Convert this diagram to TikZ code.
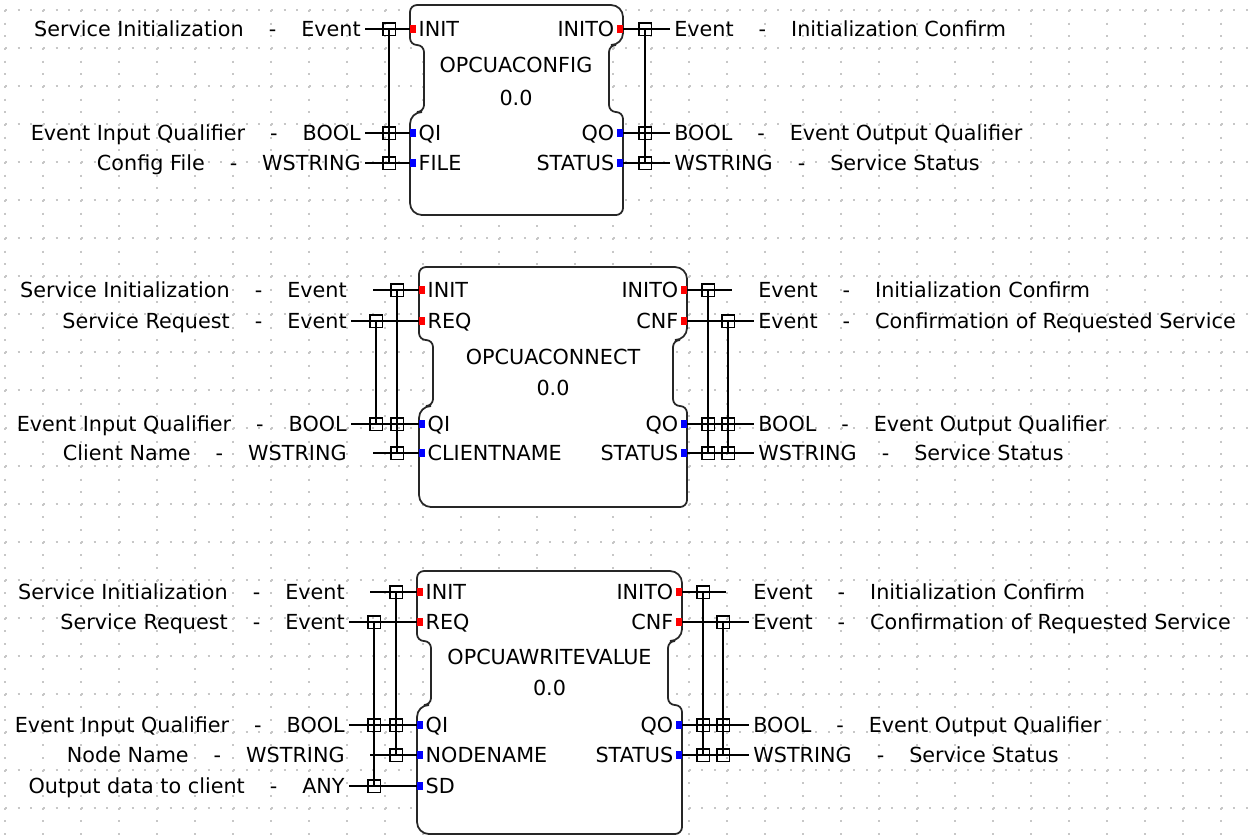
\documentclass[tikz,border=0pt]{standalone}
\usepackage{fontspec}
\setmainfont{DejaVu Sans}
\usetikzlibrary{positioning}
\newcommand{\fbfont}{\fontsize{11.8pt}{14pt}\selectfont}
\newcommand{\lsep}{\hspace{0.5cm}-\hspace{0.5cm}}

\begin{document}
\begin{tikzpicture}[
        x=0.02cm, y=-0.02cm,
        % Grid
        gridDots/.style = {draw=black!22, line width=0.04cm, dash pattern=on 0.04cm off 0.2133cm},
        % Block Styles
        fbBody/.style = {draw=black!85, fill=white, line width=1pt},
        fbTitle/.style = {font=\fbfont, inner sep=0},
        portTxt/.style = {font=\fbfont, inner xsep=0.04cm, inner ysep=0, text height=0.3cm, text depth=0cm},
        evPort/.style = {rectangle, fill=red, minimum width=0.12cm, minimum height=0.16cm, inner sep=0},
        dataPort/.style = {evPort, fill=blue},
        % Pin Styles
        pinTxt/.style = {font=\fbfont, inner xsep=0.08cm, inner ysep=0, text height=0.3cm, text depth=0cm},
        withBox/.style = {rectangle, draw=black, line width=0.85pt, minimum size=0.25cm, inner sep=0},
        wire/.style = {draw=black, line width=0.85pt}
    ]
    \useasboundingbox (0,0) rectangle (1248,836);
    \fill[white] (0,0) rectangle (1248,836);

    % ==========================================
    % DOTTED GRID
    % ==========================================
    \foreach \gx in {5,43,...,1245}
        \draw[gridDots] (\gx,-2.667) -- (\gx,850);
    \foreach \gy in {10,48,...,846}
        \draw[gridDots] (-7.667,\gy) -- (1260,\gy);

    % ==========================================
    % BLOCK 1: OPCUACONFIG
    % ==========================================
    \draw[fbBody] (516,5) [rounded corners=0.24cm] -- (623,5) -- (623,45) [rounded corners=0.14cm] -- (609,45) -- (609,112) -- (623,112) -- (623,215) [rounded corners=0.24cm] -- (410,215) -- (410,112) [rounded corners=0.14cm] -- (424,112) -- (424,45) -- (410,45) -- (410,5) [rounded corners=0.24cm] -- cycle;
    \node[fbTitle] (cfgName) at (516,65) {OPCUACONFIG};
    \node[fbTitle] (cfgVer) at (516,98) {0.0};

    \node[evPort] (cfgINIT) at (413,29) {};
    \node[dataPort] (cfgQI) at (413,133) {};
    \node[dataPort] (cfgFILE) at (413,163) {};
    \node[evPort] (cfgINITO) at (620,29) {};
    \node[dataPort] (cfgQO) at (620,133) {};
    \node[dataPort] (cfgSTATUS) at (620,163) {};
    \node[portTxt, right=0pt of cfgINIT] (cfgINITt) {INIT};
    \node[portTxt, right=0pt of cfgQI] (cfgQIt) {QI};
    \node[portTxt, right=0pt of cfgFILE] (cfgFILEt) {FILE};
    \node[portTxt, left=0pt of cfgINITO] (cfgINITOt) {INITO};
    \node[portTxt, left=0pt of cfgQO] (cfgQOt) {QO};
    \node[portTxt, left=0pt of cfgSTATUS] (cfgSTATUSt) {STATUS};

    \node[pinTxt, anchor=east] (cfgIn1) at (365,29) {Service Initialization\lsep Event};
    \node[pinTxt, anchor=east] (cfgIn2) at (365,133) {Event Input Qualifier\lsep BOOL};
    \node[pinTxt, anchor=east] (cfgIn3) at (365,163) {Config File\lsep WSTRING};
    \node[pinTxt, anchor=west] (cfgOut1) at (670,29) {Event\lsep Initialization Confirm};
    \node[pinTxt, anchor=west] (cfgOut2) at (670,133) {BOOL\lsep Event Output Qualifier};
    \node[pinTxt, anchor=west] (cfgOut3) at (670,163) {WSTRING\lsep Service Status};

    \node[withBox] (cfgW1) at (389,29) {};
    \node[withBox] (cfgW2) at (389,133) {};
    \node[withBox] (cfgW3) at (389,163) {};
    \node[withBox] (cfgW4) at (645,29) {};
    \node[withBox] (cfgW5) at (645,133) {};
    \node[withBox] (cfgW6) at (645,163) {};

    \draw[wire] (cfgIn1.east) -- (cfgINIT.west);
    \draw[wire] (cfgIn2.east) -- (cfgQI.west);
    \draw[wire] (cfgIn3.east) -- (cfgFILE.west);
    \draw[wire] (cfgINITO.east) -- (cfgOut1.west);
    \draw[wire] (cfgQO.east) -- (cfgOut2.west);
    \draw[wire] (cfgSTATUS.east) -- (cfgOut3.west);
    \draw[wire] (cfgW1.center) -- (cfgW3.center);
    \draw[wire] (cfgW4.center) -- (cfgW6.center);

    % ==========================================
    % BLOCK 2: OPCUACONNECT
    % ==========================================
    \draw[fbBody] (553,267) [rounded corners=0.24cm] -- (687,267) -- (687,340) [rounded corners=0.14cm] -- (673,340) -- (673,406) -- (687,406) -- (687,507) [rounded corners=0.24cm] -- (419,507) -- (419,406) [rounded corners=0.14cm] -- (433,406) -- (433,340) -- (419,340) -- (419,267) [rounded corners=0.24cm] -- cycle;
    \node[fbTitle] (conName) at (553,357) {OPCUACONNECT};
    \node[fbTitle] (conVer) at (553,388) {0.0};

    \node[evPort] (conINIT) at (422,290) {};
    \node[evPort] (conREQ) at (422,321) {};
    \node[dataPort] (conQI) at (422,424) {};
    \node[dataPort] (conCLIENT) at (422,453) {};
    \node[evPort] (conINITO) at (684,290) {};
    \node[evPort] (conCNF) at (684,321) {};
    \node[dataPort] (conQO) at (684,424) {};
    \node[dataPort] (conSTATUS) at (684,453) {};
    \node[portTxt, right=0pt of conINIT] (conINITt) {INIT};
    \node[portTxt, right=0pt of conREQ] (conREQt) {REQ};
    \node[portTxt, right=0pt of conQI] (conQIt) {QI};
    \node[portTxt, right=0pt of conCLIENT] (conCLIENTt) {CLIENTNAME};
    \node[portTxt, left=0pt of conINITO] (conINITOt) {INITO};
    \node[portTxt, left=0pt of conCNF] (conCNFt) {CNF};
    \node[portTxt, left=0pt of conQO] (conQOt) {QO};
    \node[portTxt, left=0pt of conSTATUS] (conSTATUSt) {STATUS};

    \node[pinTxt, anchor=east] (conIn1) at (351,290) {Service Initialization\lsep Event};
    \node[pinTxt, anchor=east] (conIn2) at (351,321) {Service Request\lsep Event};
    \node[pinTxt, anchor=east] (conIn3) at (351,424) {Event Input Qualifier\lsep BOOL};
    \node[pinTxt, anchor=east] (conIn4) at (351,453) {Client Name\lsep WSTRING};
    \node[pinTxt, anchor=west] (conOut1) at (754,290) {Event\lsep Initialization Confirm};
    \node[pinTxt, anchor=west] (conOut2) at (754,321) {Event\lsep Confirmation of Requested Service};
    \node[pinTxt, anchor=west] (conOut3) at (754,424) {BOOL\lsep Event Output Qualifier};
    \node[pinTxt, anchor=west] (conOut4) at (754,453) {WSTRING\lsep Service Status};
    \coordinate (conS1) at (373,290);
    \coordinate (conS4) at (373,453);
    \coordinate (conE1) at (732,290);

    \node[withBox] (conW1) at (397,290) {};
    \node[withBox] (conW2) at (376,321) {};
    \node[withBox] (conW3) at (376,424) {};
    \node[withBox] (conW4) at (397,424) {};
    \node[withBox] (conW5) at (397,453) {};
    \node[withBox] (conW6) at (708,290) {};
    \node[withBox] (conW7) at (728,321) {};
    \node[withBox] (conW8) at (708,424) {};
    \node[withBox] (conW9) at (728,424) {};
    \node[withBox] (conW10) at (708,453) {};
    \node[withBox] (conW11) at (728,453) {};

    \draw[wire] (conS1) -- (conINIT.west);
    \draw[wire] (conIn2.east) -- (conREQ.west);
    \draw[wire] (conIn3.east) -- (conQI.west);
    \draw[wire] (conS4) -- (conCLIENT.west);
    \draw[wire] (conINITO.east) -- (conE1);
    \draw[wire] (conCNF.east) -- (conOut2.west);
    \draw[wire] (conQO.east) -- (conOut3.west);
    \draw[wire] (conSTATUS.east) -- (conOut4.west);
    \draw[wire] (conW1.center) -- (conW5.center);
    \draw[wire] (conW2.center) -- (conW3.center);
    \draw[wire] (conW6.center) -- (conW10.center);
    \draw[wire] (conW7.center) -- (conW11.center);

    % ==========================================
    % BLOCK 3: OPCUAWRITEVALUE
    % ==========================================
    \draw[fbBody] (549,571) [rounded corners=0.24cm] -- (682,571) -- (682,641) [rounded corners=0.14cm] -- (668,641) -- (668,705) -- (682,705) -- (682,834) [rounded corners=0.24cm] -- (417,834) -- (417,705) [rounded corners=0.14cm] -- (431,705) -- (431,641) -- (417,641) -- (417,571) [rounded corners=0.24cm] -- cycle;
    \node[fbTitle] (wrName) at (549.5,657) {OPCUAWRITEVALUE};
    \node[fbTitle] (wrVer) at (549.5,688) {0.0};

    \node[evPort] (wrINIT) at (420,592) {};
    \node[evPort] (wrREQ) at (420,622) {};
    \node[dataPort] (wrQI) at (420,725) {};
    \node[dataPort] (wrNODE) at (420,755) {};
    \node[dataPort] (wrSD) at (420,786) {};
    \node[evPort] (wrINITO) at (679,592) {};
    \node[evPort] (wrCNF) at (679,622) {};
    \node[dataPort] (wrQO) at (679,725) {};
    \node[dataPort] (wrSTATUS) at (679,755) {};
    \node[portTxt, right=0pt of wrINIT] (wrINITt) {INIT};
    \node[portTxt, right=0pt of wrREQ] (wrREQt) {REQ};
    \node[portTxt, right=0pt of wrQI] (wrQIt) {QI};
    \node[portTxt, right=0pt of wrNODE] (wrNODEt) {NODENAME};
    \node[portTxt, right=0pt of wrSD] (wrSDt) {SD};
    \node[portTxt, left=0pt of wrINITO] (wrINITOt) {INITO};
    \node[portTxt, left=0pt of wrCNF] (wrCNFt) {CNF};
    \node[portTxt, left=0pt of wrQO] (wrQOt) {QO};
    \node[portTxt, left=0pt of wrSTATUS] (wrSTATUSt) {STATUS};

    \node[pinTxt, anchor=east] (wrIn1) at (349,592) {Service Initialization\lsep Event};
    \node[pinTxt, anchor=east] (wrIn2) at (349,622) {Service Request\lsep Event};
    \node[pinTxt, anchor=east] (wrIn3) at (349,725) {Event Input Qualifier\lsep BOOL};
    \node[pinTxt, anchor=east] (wrIn4) at (349,755) {Node Name\lsep WSTRING};
    \node[pinTxt, anchor=east] (wrIn5) at (349,786) {Output data to client\lsep ANY};
    \node[pinTxt, anchor=west] (wrOut1) at (749,592) {Event\lsep Initialization Confirm};
    \node[pinTxt, anchor=west] (wrOut2) at (749,622) {Event\lsep Confirmation of Requested Service};
    \node[pinTxt, anchor=west] (wrOut3) at (749,725) {BOOL\lsep Event Output Qualifier};
    \node[pinTxt, anchor=west] (wrOut4) at (749,755) {WSTRING\lsep Service Status};
    \coordinate (wrS1) at (370,592);
    \coordinate (wrS4) at (370,755);
    \coordinate (wrE1) at (726,592);

    \node[withBox] (wrW1) at (396,592) {};
    \node[withBox] (wrW2) at (374,622) {};
    \node[withBox] (wrW3) at (374,725) {};
    \node[withBox] (wrW4) at (396,725) {};
    \node[withBox] (wrW5) at (396,755) {};
    \node[withBox] (wrW6) at (374,786) {};
    \node[withBox] (wrW7) at (703,592) {};
    \node[withBox] (wrW8) at (723,622) {};
    \node[withBox] (wrW9) at (703,725) {};
    \node[withBox] (wrW10) at (723,725) {};
    \node[withBox] (wrW11) at (703,755) {};
    \node[withBox] (wrW12) at (723,755) {};

    \draw[wire] (wrS1) -- (wrINIT.west);
    \draw[wire] (wrIn2.east) -- (wrREQ.west);
    \draw[wire] (wrIn3.east) -- (wrQI.west);
    \draw[wire] (wrS4) -- (wrNODE.west);
    \draw[wire] (wrIn5.east) -- (wrSD.west);
    \draw[wire] (wrINITO.east) -- (wrE1);
    \draw[wire] (wrCNF.east) -- (wrOut2.west);
    \draw[wire] (wrQO.east) -- (wrOut3.west);
    \draw[wire] (wrSTATUS.east) -- (wrOut4.west);
    \draw[wire] (wrW1.center) -- (wrW5.center);
    \draw[wire] (wrW2.center) -- (wrW6.center);
    \draw[wire] (wrW7.center) -- (wrW11.center);
    \draw[wire] (wrW8.center) -- (wrW12.center);

\end{tikzpicture}
\end{document}
